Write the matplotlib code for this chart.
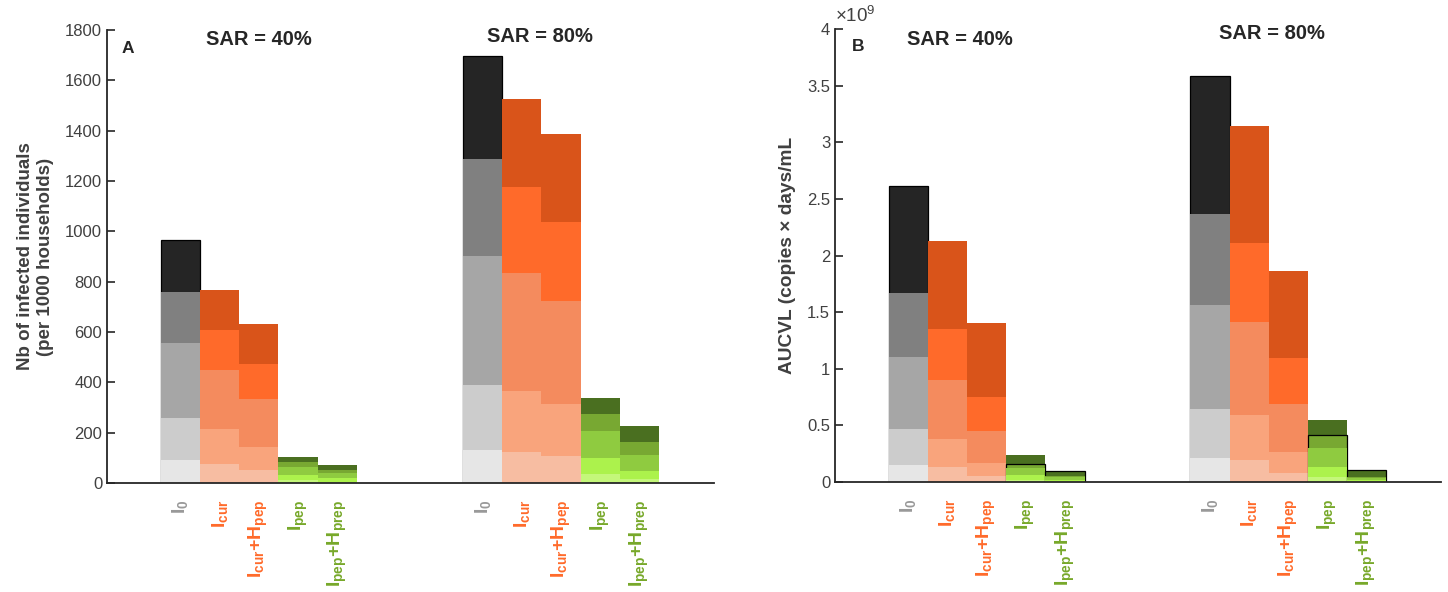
import numpy as np
import matplotlib
matplotlib.use('Agg')
import matplotlib.pyplot as plt
from matplotlib.ticker import FuncFormatter

plt.rcParams['font.family'] = ['Liberation Sans', 'DejaVu Sans']
plt.rcParams['mathtext.fontset'] = 'custom'
plt.rcParams['mathtext.rm'] = 'Liberation Sans'
plt.rcParams['mathtext.bf'] = 'Liberation Sans:bold'

# strategies, left to right inside each SAR group
strategies = [r'$\mathbf{I_{0}}$', r'$\mathbf{I_{cur}}$', r'$\mathbf{I_{cur}{+}H_{pep}}$',
              r'$\mathbf{I_{pep}}$', r'$\mathbf{I_{pep}{+}H_{prep}}$']
sar_labels = ['SAR = 40%', 'SAR = 80%']

# cumulative heights of the 5 layers of each bar (top layer first)
infected_sar40 = [[966, 760, 555, 257, 91],
                  [767, 608, 449, 213, 75],
                  [632, 473, 334, 144, 52],
                  [105, 85, 65, 32, 10],
                  [70, 52, 38, 19, 5]]
infected_sar80 = [[1696, 1286, 902, 389, 131],
                  [1524, 1177, 833, 367, 125],
                  [1387, 1036, 724, 314, 107],
                  [339, 274, 207, 98, 36],
                  [226, 163, 111, 48, 17]]
# AUCVL, in units of 1e9 copies x days/mL
aucvl_sar40 = [[2.61, 1.666, 1.10, 0.465, 0.153],
               [2.128, 1.351, 0.90, 0.383, 0.13],
               [1.407, 0.753, 0.453, 0.17, 0.053],
               [0.235, 0.16, 0.12, 0.06, 0.02],
               [0.10, 0.055, 0.04, 0.02, 0.008]]
aucvl_sar80 = [[3.588, 2.366, 1.563, 0.642, 0.209],
               [3.143, 2.113, 1.416, 0.592, 0.194],
               [1.86, 1.098, 0.689, 0.268, 0.083],
               [0.547, 0.415, 0.303, 0.135, 0.047],
               [0.106, 0.047, 0.033, 0.018, 0.006]]

# colour ramps, dark (top layer) to light (bottom layer)
grays = ['#252525', '#808080', '#a6a6a6', '#cccccc', '#e6e6e6']
oranges = ['#d9541a', '#ff6a2a', '#f48b5e', '#f9a47c', '#f7bda2']
greens = ['#4a6f20', '#78a832', '#8fcb40', '#acf24c', '#c4f77a']
ramps = [grays, oranges, oranges, greens, greens]
label_colors = ['#999999', '#ff6a2a', '#ff6a2a', '#77a82a', '#77a82a']

group_x = [np.arange(5), np.arange(5) + 7.7]

fig = plt.figure(figsize=(14.48, 5.92), dpi=100)
axA = fig.add_axes([0.0739, 0.1841, 0.4192, 0.7652])
axB = fig.add_axes([0.5767, 0.1858, 0.4185, 0.7652])

def draw(ax, groups, edged):
    for g, data in enumerate(groups):
        for b, levels in enumerate(data):
            for k, h in enumerate(levels):
                ec = 'black' if (b, k) in edged else 'none'
                ax.bar(group_x[g][b], h, width=1.0, color=ramps[b][k],
                       edgecolor=ec, linewidth=0.9 if ec != 'none' else 0)

draw(axA, [infected_sar40, infected_sar80], {(0, 0)})
draw(axB, [aucvl_sar40, aucvl_sar80], {(0, 0), (3, 1), (4, 0)})

for ax in (axA, axB):
    ax.set_xlim(-1.87, 13.6)
    for s in ('top', 'right'):
        ax.spines[s].set_visible(False)
    for s in ('left', 'bottom'):
        ax.spines[s].set_color('#262626')
        ax.spines[s].set_linewidth(1.3)
    ax.tick_params(axis='y', direction='in', length=6, width=1.2,
                   colors='#262626', labelcolor='#404040', labelsize=12)
    ax.tick_params(axis='x', length=0, pad=12)
    xt = np.concatenate(group_x)
    ax.set_xticks(xt)
    ax.set_xticklabels(strategies * 2, rotation=90, fontsize=14)
    for i, t in enumerate(ax.get_xticklabels()):
        t.set_color(label_colors[i % 5])
    ax.yaxis.set_major_formatter(FuncFormatter(lambda v, p: f'{v:g}'))

axA.set_ylim(0, 1800)
axA.set_yticks(np.arange(0, 1801, 200))
axA.set_ylabel('Nb of infected individuals\n(per 1000 households)',
               fontsize=13.5, fontweight='bold', color='#404040', labelpad=8)
axB.set_ylim(0, 4)
axB.set_yticks(np.arange(0, 4.01, 0.5))
axB.set_ylabel('AUCVL (copies \u00d7 days/mL', fontsize=13.8,
               fontweight='bold', color='#404040', labelpad=8)
axB.text(0.0, 1.006, r'$\times10^{9}$', transform=axB.transAxes,
         ha='left', va='bottom', fontsize=13.5, color='#404040')

axA.text(0.035, 0.96, 'A', transform=axA.transAxes, ha='center', va='center',
         fontsize=12.5, fontweight='bold', color='#262626')
axB.text(0.038, 0.962, 'B', transform=axB.transAxes, ha='center', va='center',
         fontsize=12.5, fontweight='bold', color='#262626')

title_pos = {axA: [(1.99, 0.978), (9.16, 0.985)], axB: [(1.32, 0.976), (9.29, 0.989)]}
for ax, pos in title_pos.items():
    for (x, y), lab in zip(pos, sar_labels):
        ax.text(x, y, lab, transform=ax.get_xaxis_transform(), ha='center',
                va='center', fontsize=14.5, fontweight='bold', color='#262626')

fig.savefig('out.png', dpi=100)
